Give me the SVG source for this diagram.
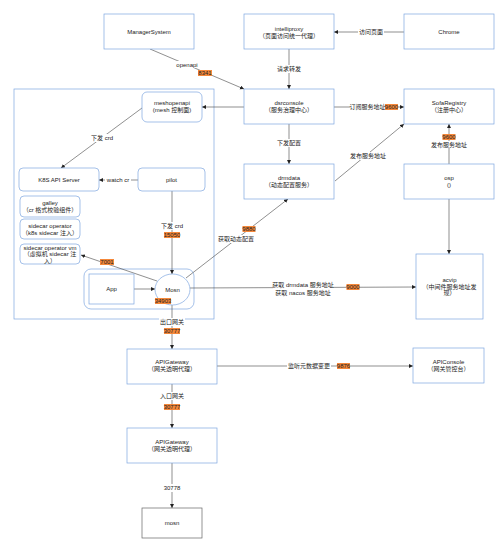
<svg xmlns="http://www.w3.org/2000/svg" width="500" height="544" viewBox="0 0 500 544">
<defs>
<marker id="ar" markerUnits="userSpaceOnUse" markerWidth="5" markerHeight="5" refX="4" refY="2" orient="auto"><path d="M0,0 L4,2 L0,4 z" fill="#222"/></marker>
<style>
.box{fill:#fff;stroke:#7EA6E0;stroke-width:0.7}
.gbox{fill:#fff;stroke:#666;stroke-width:0.7}
.cont{fill:none;stroke:#7EA6E0;stroke-width:0.7}
.t{font-family:"Liberation Sans","Noto Sans CJK SC",sans-serif;font-size:6px;fill:#222;text-anchor:middle}
.e{fill:none;stroke:#444;stroke-width:0.6;marker-end:url(#ar)}
.bg{fill:#fff}
.hl{fill:#F5883A}
</style>
</defs>
<rect width="500" height="544" fill="#fff"/>
<rect class="cont" x="14" y="89" width="200" height="230"/>
<g id="pod"><rect class="cont" x="84" y="269" width="110" height="40" rx="7"/></g>

<g id="connectors">
<path class="e" d="M150,49 L244,89"/>
<path class="e" d="M404,32 L334,32"/>
<path class="e" d="M289,49 L289,89"/>
<path class="e" d="M244,107 L202,107"/>
<path class="e" d="M334,107 L404,107"/>
<path class="e" d="M289,124 L289,164"/>
<path class="e" d="M335,181 L404,124"/>
<path class="e" d="M449,164 L449,124"/>
<path class="e" d="M449,199 L449,254"/>
<path class="e" d="M142,108 L61,168"/>
<path class="e" d="M138,180 L99,180"/>
<path class="e" d="M172,191 L172,274"/>
<path class="e" d="M157,281 L81,255"/>
<path class="e" d="M134,289 L155,289"/>
<path class="e" d="M186,278 L288,199"/>
<path class="e" d="M190,288 L416,287"/>
<path class="e" d="M172,305 L172,349"/>
<path class="e" d="M217,366 L413,366"/>
<path class="e" d="M172,384 L172,428"/>
<path class="e" d="M172,463 L172,508"/>
</g>

<g id="labels">
<rect class="bg" x="175" y="61" width="24" height="7"/>
<text class="t" x="187" y="67">openapi</text>
<rect class="hl" x="198" y="70" width="14" height="6"/>
<text class="t" x="205" y="75.2">8341</text>
<rect class="bg" x="358" y="28" width="26" height="8"/>
<text class="t" x="371" y="34">访问页面</text>
<rect class="bg" x="276" y="65" width="26" height="8"/>
<text class="t" x="289" y="71">请求转发</text>
<rect class="bg" x="350" y="103" width="35" height="8"/>
<text class="t" x="367.5" y="109">订阅服务地址</text>
<rect class="hl" x="385" y="104" width="13" height="6"/>
<text class="t" x="391.5" y="109.2">9600</text>
<rect class="bg" x="276" y="139" width="26" height="8"/>
<text class="t" x="289" y="145">下发配置</text>
<rect class="bg" x="350" y="152" width="36" height="8"/>
<text class="t" x="368" y="158">发布服务地址</text>
<rect class="hl" x="442.5" y="134" width="13" height="6"/>
<text class="t" x="449" y="139.2">9600</text>
<rect class="bg" x="431" y="141" width="36" height="7"/>
<text class="t" x="449" y="147">发布服务地址</text>
<rect class="bg" x="89" y="134" width="26" height="8"/>
<text class="t" x="102" y="140">下发 crd</text>
<rect class="bg" x="105" y="176" width="26" height="8"/>
<text class="t" x="118" y="182">watch cr</text>
<rect class="bg" x="160" y="222" width="24" height="8"/>
<text class="t" x="172" y="228">下发 crd</text>
<rect class="hl" x="164" y="232" width="16" height="6"/>
<text class="t" x="172" y="237.2">15050</text>
<rect class="hl" x="100" y="259" width="14" height="6"/>
<text class="t" x="107" y="264.2">7001</text>
<rect class="hl" x="242.5" y="226" width="13" height="6"/>
<text class="t" x="249" y="231.2">9880</text>
<rect class="bg" x="218" y="235" width="36" height="8"/>
<text class="t" x="236" y="241">获取动态配置</text>
<rect class="bg" x="273" y="281" width="60" height="15"/>
<text class="t" x="303" y="287">获取 drmdata 服务地址</text>
<text class="t" x="303" y="295">获取 nacos 服务地址</text>
<rect class="hl" x="346.5" y="284" width="13" height="6"/>
<text class="t" x="353" y="289.2">9000</text>
<rect class="bg" x="159" y="318" width="26" height="8"/>
<text class="t" x="172" y="324">出口网关</text>
<rect class="hl" x="164" y="328" width="16" height="6"/>
<text class="t" x="172" y="333.2">30777</text>
<rect class="bg" x="287" y="362" width="44" height="8"/>
<text class="t" x="309" y="368">监听元数据变更</text>
<rect class="hl" x="337" y="363" width="13" height="6"/>
<text class="t" x="343.5" y="368.2">9876</text>
<rect class="bg" x="159" y="392" width="26" height="8"/>
<text class="t" x="172" y="398">入口网关</text>
<rect class="hl" x="164" y="404" width="16" height="6"/>
<text class="t" x="172" y="409.2">30777</text>
<rect class="bg" x="162" y="484" width="20" height="8"/>
<text class="t" x="172" y="490">30778</text>
</g>

<g id="ManagerSystem"><rect class="box" x="104" y="14" width="90" height="35"/><text class="t" x="149" y="34">ManagerSystem</text></g>
<g id="intelliproxy"><rect class="box" x="244" y="14" width="90" height="35"/><text class="t" x="289" y="31">intelliproxy</text><text class="t" x="289" y="38">（页面访问统一代理）</text></g>
<g id="Chrome"><rect class="box" x="404" y="14" width="90" height="35"/><text class="t" x="449" y="34">Chrome</text></g>
<g id="dsrconsole"><rect class="box" x="244" y="89" width="90" height="35"/><text class="t" x="289" y="105">dsrconsole</text><text class="t" x="289" y="112">（服务治理中心）</text></g>
<g id="SofaRegistry"><rect class="box" x="404" y="89" width="90" height="35"/><text class="t" x="449" y="105">SofaRegistry</text><text class="t" x="449" y="112">（注册中心）</text></g>
<g id="drmdata"><rect class="box" x="244" y="164" width="90" height="35"/><text class="t" x="289" y="180">drmdata</text><text class="t" x="289" y="187">（动态配置服务）</text></g>
<g id="osp"><rect class="box" x="404" y="164" width="90" height="35"/><text class="t" x="449" y="180">osp</text><text class="t" x="449" y="187">()</text></g>
<g id="acvip"><rect class="box" x="416" y="254" width="67" height="65"/><text class="t" x="449.5" y="282">acvip</text><text class="t" x="449.5" y="288.5">（中间件服务地址发</text><text class="t" x="449.5" y="295">现）</text></g>
<g id="meshopenapi"><rect class="box" x="142" y="92" width="60" height="30" rx="5"/><text class="t" x="172" y="105">meshopenapi</text><text class="t" x="172" y="112">(mesh 控制面)</text></g>
<g id="K8SAPIServer"><rect class="box" x="19" y="168" width="80" height="23" rx="4"/><text class="t" x="59" y="182">K8S API Server</text></g>
<g id="pilot"><rect class="box" x="138" y="168" width="67" height="23" rx="4"/><text class="t" x="171.5" y="182">pilot</text></g>
<g id="galley"><rect class="box" x="20" y="196" width="60" height="21" rx="4"/><text class="t" x="50" y="205">galley</text><text class="t" x="50" y="212">（cr 格式校验组件）</text></g>
<g id="sidecaroperator"><rect class="box" x="20" y="219" width="60" height="20" rx="4"/><text class="t" x="50" y="227.5">sidecar operator</text><text class="t" x="50" y="234.5">（k8s sidecar 注入）</text></g>
<g id="sidecaroperatorvm"><rect class="box" x="20" y="244" width="60" height="20" rx="4"/><text class="t" x="50" y="249.5">sidecar operator vm</text><text class="t" x="50" y="256">（虚拟机 sidecar 注</text><text class="t" x="50" y="262.5">入）</text></g>
<g id="App"><rect class="box" x="89" y="274" width="45" height="30"/><text class="t" x="111.5" y="291">App</text></g>
<g id="Mosn"><ellipse class="box" cx="172.5" cy="289.5" rx="17.5" ry="15.5"/><text class="t" x="172.5" y="291.5">Mosn</text></g>
<g id="mosn-port-label"><rect class="hl" x="155" y="298" width="16" height="6"/><text class="t" x="163" y="303.2">34903</text></g>
<g id="APIGateway1"><rect class="box" x="127" y="349" width="90" height="35"/><text class="t" x="172" y="364">APIGateway</text><text class="t" x="172" y="371">（网关透明代理）</text></g>
<g id="APIConsole"><rect class="box" x="413" y="348" width="71" height="35"/><text class="t" x="448.5" y="364">APIConsole</text><text class="t" x="448.5" y="371">（网关管控台）</text></g>
<g id="APIGateway2"><rect class="box" x="127" y="428" width="90" height="35"/><text class="t" x="172" y="444">APIGateway</text><text class="t" x="172" y="451">（网关透明代理）</text></g>
<g id="mosn"><rect class="gbox" x="142" y="508" width="60" height="30"/><text class="t" x="172" y="525">mosn</text></g>
</svg>
